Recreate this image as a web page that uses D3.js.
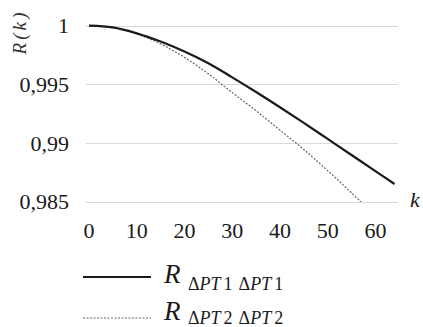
<!DOCTYPE html>
<html>
<head>
<meta charset="utf-8">
<script src="https://cdn.jsdelivr.net/npm/d3@7"></script>
<style>
  body { margin: 0; background: #fff; }
  svg text { font-family: "Liberation Serif", serif; }
</style>
</head>
<body>
<div id="chart"></div>
<script>
const kValues = [0, 5, 10, 15, 20, 25, 30, 35, 40, 45, 50, 55, 60, 64];
const r1Values = [1, 0.99985, 0.99935, 0.99865, 0.9978, 0.9968, 0.9956, 0.99435, 0.99305, 0.99172, 0.99035, 0.98898, 0.9876, 0.98651];
const r2Values = [1, 0.99983, 0.9993, 0.99845, 0.9973, 0.9959, 0.9943, 0.99275, 0.9911, 0.98945, 0.98765, 0.98575, 0.98375, 0.9821];
const yTicks = [0.985, 0.99, 0.995, 1];
const xTicks = [0, 10, 20, 30, 40, 50, 60];

const width = 423, height = 327;
const svg = d3.select("#chart").append("svg")
  .attr("width", width).attr("height", height);

const x = d3.scaleLinear().domain([0, 64]).range([89, 394.5]);
const y = d3.scaleLinear().domain([0.985, 1]).range([201.7, 25.7]);

// grid
svg.append("g")
  .selectAll("line")
  .data(yTicks)
  .join("line")
  .attr("x1", 86).attr("x2", 398)
  .attr("y1", d => Math.round(y(d)) + 0.5).attr("y2", d => Math.round(y(d)) + 0.5)
  .attr("stroke", "#d9d9d9").attr("stroke-width", 1);

// y tick labels
const fmt = d => d === 1 ? "1" : String(d).replace(".", ",");
svg.append("g")
  .selectAll("text")
  .data(yTicks)
  .join("text")
  .attr("x", 69).attr("y", d => y(d))
  .attr("dy", "0.34em")
  .attr("text-anchor", "end")
  .attr("fill", "#1a1a1a")
  .style("font-size", "22px")
  .text(fmt);

// x tick labels
svg.append("g")
  .selectAll("text")
  .data(xTicks)
  .join("text")
  .attr("x", d => x(d)).attr("y", 238)
  .attr("text-anchor", "middle")
  .attr("fill", "#1a1a1a")
  .style("font-size", "22px")
  .text(d => d);

// axis titles
svg.append("text")
  .attr("transform", "translate(26,33.5) rotate(-90)")
  .attr("text-anchor", "middle")
  .attr("fill", "#333")
  .attr("textLength", 42)
  .style("font-size", "19px").style("font-style", "italic")
  .text("R(k)");
svg.append("text")
  .attr("x", 410).attr("y", 207)
  .attr("fill", "#1a1a1a")
  .style("font-size", "22px").style("font-style", "italic")
  .text("k");

svg.append("defs").append("clipPath").attr("id", "plot")
  .append("rect").attr("x", 80).attr("y", 15).attr("width", 330).attr("height", 187);

const line = d3.line()
  .x((d, i) => x(kValues[i]))
  .y(d => y(d))
  .curve(d3.curveCatmullRom);

const plot = svg.append("g").attr("clip-path", "url(#plot)");
plot.append("path")
  .attr("d", line(r2Values))
  .attr("fill", "none")
  .attr("stroke", "#666")
  .attr("stroke-width", 1.2)
  .attr("stroke-dasharray", "2,1.5");
plot.append("path")
  .attr("d", line(r1Values))
  .attr("fill", "none")
  .attr("stroke", "#1a1a1a")
  .attr("stroke-width", 2.2);

// legend
const legend = [
  { label: "1", dash: null, color: "#1a1a1a", w: 2.2, ly: 277, ty: 283, sy: 290 },
  { label: "2", dash: "2,1.5", color: "#666", w: 1.2, ly: 318, ty: 320, sy: 324 }
];
legend.forEach(l => {
  svg.append("line")
    .attr("x1", 83).attr("x2", 151)
    .attr("y1", l.ly).attr("y2", l.ly)
    .attr("stroke", l.color).attr("stroke-width", l.w)
    .attr("stroke-dasharray", l.dash);
  svg.append("text")
    .attr("x", 164).attr("y", l.ty)
    .attr("fill", "#1a1a1a")
    .style("font-size", "27px").style("font-style", "italic")
    .text("R");
  const sub = svg.append("text").attr("x", 188).attr("y", l.sy)
    .attr("fill", "#1a1a1a")
    .style("font-size", "18px");
  sub.append("tspan").text("Δ");
  sub.append("tspan").style("font-style", "italic").text("PT");
  sub.append("tspan").attr("dx", 3).text(l.label);
  sub.append("tspan").attr("dx", 6).text("Δ");
  sub.append("tspan").style("font-style", "italic").text("PT");
  sub.append("tspan").attr("dx", 3).text(l.label);
});
</script>
</body>
</html>
